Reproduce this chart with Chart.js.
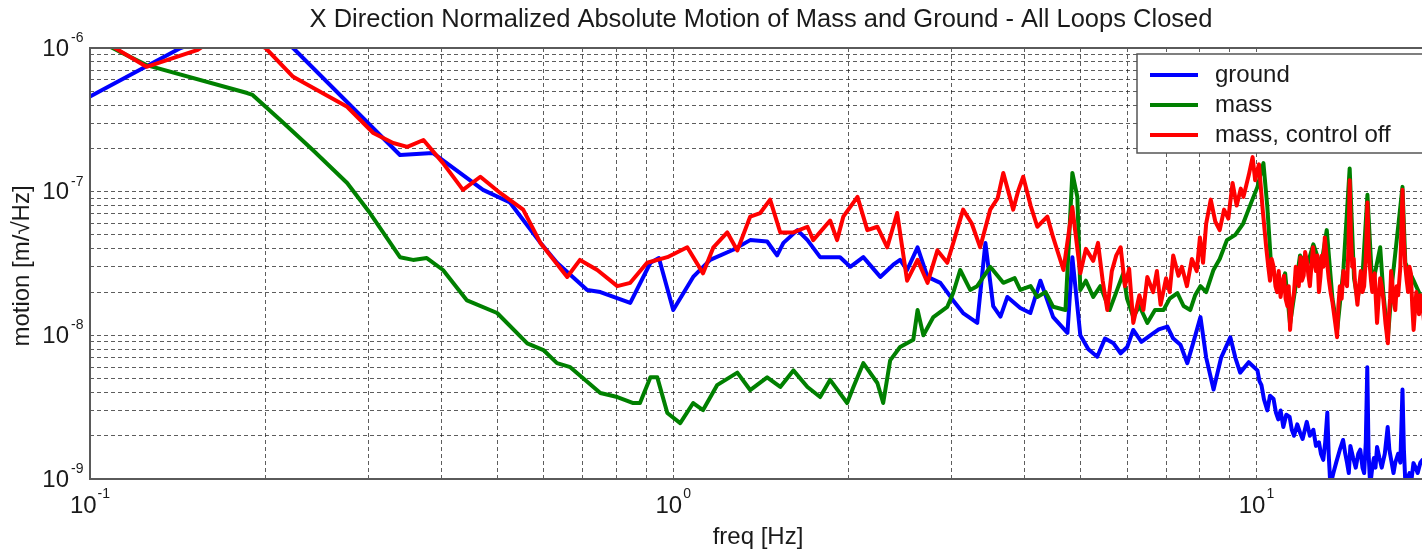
<!DOCTYPE html>
<html><head><meta charset="utf-8">
<script src="https://cdn.jsdelivr.net/npm/chart.js@4.4.1/dist/chart.umd.min.js"></script>
<style>html,body{margin:0;padding:0;background:#fff;overflow:hidden;width:1422px;height:553px}canvas{display:block}</style>
</head><body>
<canvas id="c" width="1440" height="553"></canvas>
<script>
const chartTitle = "X Direction Normalized Absolute Motion of Mass and Ground - All Loops Closed";
const xAxisLabel = "freq [Hz]";
const yAxisLabel = "motion [m/\u221AHz]";
const seriesNames = ["ground", "mass", "mass, control off"];
const seriesColors = ["#0000ff", "#008000", "#ff0000"];
const xTickExponents = [-1, 0, 1];
const yTickExponents = [-9, -8, -7, -6];

const groundFreq = [0.100,0.143,0.19,0.223,0.340,0.387,0.472,0.525,0.592,0.632,0.712,0.750,0.844,0.914,0.945,1.000,1.082,1.157,1.267,1.355,1.449,1.507,1.545,1.633,1.699,1.786,1.932,2.012,2.118,2.265,2.384,2.449,2.518,2.624,2.729,2.871,3.020,3.141,3.321,3.430,3.537,3.64,3.741,3.936,4.096,4.262,4.482,4.742,4.835,4.989,5.15,5.334,5.5,5.688,5.85,6.005,6.148,6.35,6.577,6.8,7.036,7.2,7.408,7.612,7.8,8.017,8.2,8.443,8.7,9.020,9.2,9.378,9.7,10.04,10.12,10.2,10.3,10.44,10.55,10.7,10.8,10.9,11.0,11.12,11.25,11.4,11.5,11.6,11.75,11.88,12.0,12.2,12.35,12.52,12.65,12.8,12.9,13.02,13.12,13.23,13.3,13.39,13.55,13.7,13.9,14.08,14.2,14.3,14.4,14.49,14.65,14.8,14.95,15.07,15.2,15.3,15.4,15.49,15.57,15.67,15.8,15.9,16.0,16.1,16.25,16.4,16.6,16.79,16.9,17.0,17.18,17.3,17.5,17.65,17.8,17.9,18.01,18.15,18.3,18.45,18.59,18.75,18.9,19.1,19.27,19.45,19.6,19.8,20];
const groundVal = [4.6e-7,1.0e-6,1.5e-6,1.0e-6,1.8e-7,1.86e-7,1.03e-7,8.4e-8,4.4e-8,3.2e-8,2.07e-8,2.0e-8,1.68e-8,3.2e-8,3.45e-8,1.5e-8,2.55e-8,3.35e-8,3.94e-8,4.6e-8,4.5e-8,3.6e-8,4.4e-8,5.4e-8,4.6e-8,3.5e-8,3.5e-8,3.0e-8,3.5e-8,2.55e-8,3.1e-8,3.35e-8,2.85e-8,4.1e-8,2.55e-8,2.32e-8,1.75e-8,1.43e-8,1.22e-8,4.4e-8,1.6e-8,1.35e-8,1.85e-8,1.55e-8,1.43e-8,2.4e-8,1.34e-8,1.04e-8,3.5e-8,1.0e-8,8.0e-9,7.1e-9,9.5e-9,8.8e-9,7.5e-9,8.3e-9,1.09e-8,9.0e-9,1.0e-8,1.1e-8,1.15e-8,9.5e-9,8.6e-9,6.4e-9,9.0e-9,1.34e-8,7.0e-9,4.2e-9,7.0e-9,9.7e-9,7.0e-9,5.5e-9,6.5e-9,5.7e-9,4.8e-9,4.5e-9,3.6e-9,3.0e-9,3.8e-9,3.6e-9,2.9e-9,2.6e-9,3.0e-9,2.3e-9,2.8e-9,2.7e-9,2.2e-9,2.0e-9,2.4e-9,2.1e-9,1.9e-9,2.5e-9,2.0e-9,2.2e-9,1.7e-9,1.8e-9,1.5e-9,1.36e-9,1.8e-9,2.9e-9,1.5e-9,9e-10,1.1e-9,1.3e-9,1.6e-9,1.87e-9,1.5e-9,1.3e-9,1.1e-9,1.7e-9,1.4e-9,1.2e-9,1.5e-9,1.6e-9,1.2e-9,1.1e-9,1.8e-9,6.0e-9,1.5e-9,9e-10,1.2e-9,1.4e-9,1.2e-9,1.67e-9,1.4e-9,1.2e-9,1.5e-9,2.3e-9,1.6e-9,1.4e-9,1.1e-9,1.3e-9,1.5e-9,1.3e-9,4.2e-9,1.6e-9,9e-10,1.0e-9,1.1e-9,1.0e-9,1.29e-9,1.2e-9,1.1e-9,1.3e-9,1.36e-9,1.2e-9,1.1e-9,1.3e-9,1.2e-9];

const massFreq = [0.100,0.125,0.186,0.190,0.212,0.241,0.276,0.302,0.340,0.358,0.378,0.403,0.443,0.499,0.562,0.599,0.632,0.666,0.750,0.802,0.854,0.877,0.914,0.939,0.977,1.028,1.082,1.125,1.189,1.288,1.355,1.449,1.526,1.607,1.699,1.786,1.858,1.987,2.037,2.118,2.239,2.291,2.355,2.449,2.58,2.624,2.685,2.793,2.951,3.02,3.105,3.23,3.32,3.496,3.681,3.85,3.936,4.1,4.21,4.35,4.482,4.705,4.835,4.931,4.989,5.1,5.25,5.4,5.6,5.75,5.91,6.0,6.15,6.3,6.5,6.7,6.93,7.1,7.32,7.5,7.7,7.85,8.02,8.2,8.44,8.65,8.9,9.2,9.49,9.75,10.04,10.28,10.44,10.6,11.0,11.2,11.42,11.88,12.2,12.52,12.9,13.2,13.5,13.76,14.1,14.45,14.7,14.9,15.2,15.5,15.8,16.3,16.5,16.8,17.1,17.8,18.0,18.6,19.27,20];
const massVal = [1.2e-6,7.6e-7,4.86e-7,4.71e-7,3.15e-7,1.95e-7,1.15e-7,7.1e-8,3.5e-8,3.35e-8,3.45e-8,2.85e-8,1.75e-8,1.43e-8,8.8e-9,7.9e-9,6.4e-9,6.0e-9,3.97e-9,3.72e-9,3.38e-9,3.38e-9,5.1e-9,5.1e-9,2.88e-9,2.45e-9,3.38e-9,3.02e-9,4.5e-9,5.5e-9,4.16e-9,5.1e-9,4.37e-9,5.7e-9,4.37e-9,3.72e-9,4.9e-9,3.38e-9,4.37e-9,6.4e-9,4.66e-9,3.38e-9,6.7e-9,8.3e-9,9.3e-9,1.5e-8,1.0e-8,1.34e-8,1.58e-8,1.97e-8,2.85e-8,2.07e-8,2.2e-8,3.0e-8,2.32e-8,2.5e-8,2.07e-8,2.2e-8,1.85e-8,2.0e-8,1.58e-8,1.5e-8,1.35e-7,9.2e-8,2.07e-8,2.4e-8,1.85e-8,2.2e-8,1.5e-8,2.0e-8,2.7e-8,1.8e-8,1.34e-8,1.6e-8,1.22e-8,1.5e-8,1.5e-8,1.8e-8,1.97e-8,1.6e-8,1.5e-8,1.9e-8,2.2e-8,2.0e-8,2.85e-8,3.4e-8,4.6e-8,5.0e-8,6.0e-8,8.0e-8,1.08e-7,1.58e-7,7.8e-8,3.0e-8,2.1e-8,2.7e-8,1.2e-8,3.6e-8,3.0e-8,4.3e-8,3.0e-8,5.4e-8,1.8e-8,1.1e-8,2.9e-8,1.45e-7,2.5e-8,1.8e-8,2.6e-8,9.5e-8,2.2e-8,4.1e-8,2.0e-8,9.5e-9,2.4e-8,1.08e-7,3.2e-8,2.4e-8,1.75e-8,2.0e-8];

const offFreq = [0.100,0.125,0.153,0.170,0.200,0.223,0.276,0.306,0.331,0.350,0.373,0.403,0.436,0.467,0.505,0.553,0.592,0.658,0.692,0.741,0.802,0.844,0.902,0.977,1.057,1.125,1.172,1.238,1.288,1.355,1.410,1.466,1.526,1.607,1.699,1.738,1.858,1.910,1.957,2.070,2.152,2.239,2.328,2.421,2.518,2.624,2.729,2.838,2.951,3.05,3.141,3.25,3.36,3.496,3.6,3.681,3.828,3.9,3.982,4.1,4.210,4.380,4.482,4.668,4.835,4.989,5.1,5.25,5.35,5.45,5.55,5.65,5.75,5.85,5.95,6.05,6.15,6.3,6.4,6.5,6.65,6.75,6.85,7.0,7.1,7.2,7.35,7.45,7.6,7.75,7.9,8.0,8.1,8.2,8.35,8.5,8.65,8.8,8.95,9.1,9.25,9.4,9.5,9.7,9.85,9.95,10.1,10.25,10.4,10.48,10.55,10.62,10.7,10.78,10.85,10.92,11.0,11.08,11.15,11.22,11.3,11.36,11.42,11.5,11.6,11.68,11.75,11.82,11.9,11.97,12.05,12.12,12.2,12.28,12.35,12.42,12.5,12.58,12.65,12.72,12.8,12.88,12.95,13.02,13.1,13.2,13.3,13.4,13.5,13.62,13.75,13.82,13.9,14.0,14.1,14.2,14.3,14.38,14.45,14.52,14.6,14.68,14.75,14.82,14.9,15.0,15.1,15.2,15.3,15.4,15.5,15.58,15.65,15.72,15.8,15.88,15.95,16.02,16.1,16.2,16.3,16.4,16.5,16.65,16.8,16.88,16.95,17.02,17.1,17.2,17.3,17.4,17.5,17.65,17.8,17.9,18.0,18.1,18.2,18.3,18.4,18.5,18.6,18.7,18.8,18.9,19.0,19.1,19.27,19.4,19.6,19.8,20];
const offVal = [1.27e-6,7.4e-7,9.7e-7,1.3e-6,1.0e-6,6.3e-7,3.9e-7,2.56e-7,2.18e-7,2.05e-7,2.29e-7,1.58e-7,1.03e-7,1.27e-7,9.8e-8,7.5e-8,4.4e-8,2.55e-8,3.35e-8,2.85e-8,2.2e-8,2.32e-8,3.2e-8,3.5e-8,4.1e-8,2.7e-8,4.1e-8,5.2e-8,3.9e-8,6.7e-8,7.1e-8,8.8e-8,5.2e-8,5.2e-8,5.7e-8,4.6e-8,6.3e-8,4.6e-8,6.7e-8,9.2e-8,5.4e-8,5.7e-8,4.1e-8,7.1e-8,2.4e-8,3.35e-8,2.32e-8,3.9e-8,3.2e-8,5.0e-8,7.5e-8,6.0e-8,4.1e-8,7.5e-8,9.0e-8,1.35e-7,7.5e-8,1.0e-7,1.27e-7,8.0e-8,5.7e-8,6.7e-8,4.8e-8,2.85e-8,7.8e-8,2.7e-8,4.0e-8,3.3e-8,4.4e-8,2.4e-8,1.5e-8,2.8e-8,3.6e-8,4.1e-8,2.2e-8,2.9e-8,1.22e-8,1.9e-8,1.5e-8,2.55e-8,2.0e-8,2.8e-8,1.63e-8,2.5e-8,2.0e-8,3.6e-8,2.6e-8,3.0e-8,2.2e-8,3.4e-8,2.8e-8,4.8e-8,3.2e-8,6.0e-8,8.8e-8,6.2e-8,5.4e-8,7.5e-8,6.5e-8,1.15e-7,8.0e-8,1.05e-7,9.2e-8,1.3e-7,1.74e-7,1.2e-7,1.55e-7,7.5e-8,4.0e-8,3.0e-8,2.4e-8,3.4e-8,3.0e-8,2.2e-8,2.0e-8,2.8e-8,1.85e-8,2.3e-8,2.6e-8,1.8e-8,1.6e-8,2.2e-8,1.09e-8,1.6e-8,2.0e-8,3.0e-8,2.8e-8,2.2e-8,3.5e-8,2.4e-8,2.6e-8,3.8e-8,3.3e-8,2.6e-8,2.2e-8,3.0e-8,4.1e-8,3.2e-8,2.8e-8,3.6e-8,2.0e-8,2.6e-8,3.6e-8,3.0e-8,4.8e-8,3.4e-8,2.5e-8,2.0e-8,1.7e-8,1.3e-8,9.7e-9,1.6e-8,2.2e-8,1.8e-8,2.8e-8,2.4e-8,2.2e-8,4.0e-8,1.2e-7,5.0e-8,3.0e-8,3.4e-8,2.4e-8,2.0e-8,1.63e-8,2.2e-8,2.8e-8,2.0e-8,2.2e-8,3.4e-8,8.4e-8,4.0e-8,3.0e-8,2.4e-8,2.0e-8,2.4e-8,2.7e-8,1.8e-8,1.22e-8,1.8e-8,2.5e-8,2.2e-8,1.8e-8,1.2e-8,8.8e-9,1.4e-8,1.8e-8,2.8e-8,2.3e-8,1.7e-8,1.5e-8,2.2e-8,1.9e-8,3.0e-8,1.03e-7,4.5e-8,3.0e-8,2.4e-8,2.0e-8,3.0e-8,2.7e-8,1.6e-8,1.09e-8,1.5e-8,2.0e-8,1.7e-8,1.4e-8,1.9e-8,1.58e-8,1.2e-8,1.1e-8,1.6e-8,2.0e-8];

const FONT = '"Liberation Sans", Arial, Helvetica, sans-serif';
const TEXT_COLOR = '#1a1a1a';

function pts(fx, vy) { return fx.map((f, i) => ({ x: f, y: vy[i] })); }
function decadeTicks(e0, e1) {
  const t = [];
  for (let e = e0; e < e1; e++) for (let k = 1; k <= 9; k++) t.push({ value: k * Math.pow(10, e) });
  t.push({ value: Math.pow(10, e1) });
  return t;
}

const decorPlugin = {
  id: 'decor',
  afterDatasetsDraw(chart) {
    const ctx = chart.ctx, a = chart.chartArea;
    const xs = chart.scales.x, ys = chart.scales.y;
    ctx.save();
    ctx.strokeStyle = '#5a5a5a'; ctx.lineWidth = 2; ctx.setLineDash([]);
    ctx.strokeRect(a.left, a.top, a.right - a.left, a.bottom - a.top);
    ctx.fillStyle = TEXT_COLOR;
    ctx.font = '25.5px ' + FONT; ctx.textAlign = 'center'; ctx.textBaseline = 'middle';
    ctx.fillText(chartTitle, (a.left + a.right) / 2, 20);
    ctx.font = '24px ' + FONT;
    ctx.fillText(xAxisLabel, 758, 537);
    ctx.save(); ctx.translate(22, 266); ctx.rotate(-Math.PI / 2);
    ctx.fillText(yAxisLabel, 0, 0); ctx.restore();
    yTickExponents.forEach(e => {
      const y = ys.getPixelForValue(Math.pow(10, e));
      ctx.font = '24px ' + FONT; ctx.textAlign = 'right'; ctx.textBaseline = 'middle';
      ctx.fillText('10', 69, y + 1);
      ctx.font = '14px ' + FONT; ctx.textAlign = 'left';
      ctx.fillText('-' + Math.abs(e), 71, y - 10);
    });
    xTickExponents.forEach(e => {
      const x = xs.getPixelForValue(Math.pow(10, e));
      ctx.font = '24px ' + FONT;
      const w10 = ctx.measureText('10').width;
      const es = (e < 0 ? '-' : '') + Math.abs(e);
      ctx.font = '14px ' + FONT;
      const we = ctx.measureText(es).width;
      const start = x - (w10 + 1 + we) / 2;
      ctx.textAlign = 'left'; ctx.textBaseline = 'middle';
      ctx.font = '24px ' + FONT; ctx.fillText('10', start, 506);
      ctx.font = '14px ' + FONT; ctx.fillText(es, start + w10 + 1, 494);
    });
    ctx.fillStyle = '#ffffff'; ctx.fillRect(1137, 54, 300, 99);
    ctx.strokeStyle = '#555'; ctx.lineWidth = 1.5; ctx.strokeRect(1137, 54, 300, 99);
    seriesNames.forEach((n, i) => {
      const y = 75 + i * 30;
      ctx.strokeStyle = seriesColors[i]; ctx.lineWidth = 4;
      ctx.beginPath(); ctx.moveTo(1150, y); ctx.lineTo(1198, y); ctx.stroke();
      ctx.fillStyle = TEXT_COLOR; ctx.font = '24px ' + FONT;
      ctx.textAlign = 'left'; ctx.textBaseline = 'middle';
      ctx.fillText(n, 1215, y);
    });
    ctx.restore();
  }
};

const gridOpts = { color: 'rgba(30,30,30,0.72)', lineWidth: 1, drawTicks: false };
const borderOpts = { display: false, dash: [4, 3] };

new Chart(document.getElementById('c'), {
  type: 'line',
  data: {
    datasets: [
      { label: seriesNames[0], data: pts(groundFreq, groundVal), borderColor: seriesColors[0], order: 3 },
      { label: seriesNames[1], data: pts(massFreq, massVal), borderColor: seriesColors[1], order: 2 },
      { label: seriesNames[2], data: pts(offFreq, offVal), borderColor: seriesColors[2], order: 1 }
    ]
  },
  options: {
    responsive: false, animation: false, devicePixelRatio: 1,
    layout: { padding: { top: 48, right: 8, left: 0, bottom: 0 } },
    elements: { point: { radius: 0 }, line: { borderWidth: 4, tension: 0, borderJoinStyle: 'round', borderCapStyle: 'round', fill: false } },
    datasets: { line: { clip: 0 } },
    plugins: { legend: { display: false }, title: { display: false }, tooltip: { enabled: false } },
    scales: {
      x: {
        type: 'logarithmic', min: 0.1, max: 20, position: 'bottom',
        ticks: { display: false }, grid: gridOpts, border: borderOpts,
        afterBuildTicks: s => { s.ticks = decadeTicks(-1, 1).concat([{ value: 20 }]); },
        afterFit: s => { s.height = 74; }
      },
      y: {
        type: 'logarithmic', min: 1e-9, max: 1e-6, position: 'left',
        ticks: { display: false }, grid: gridOpts, border: borderOpts,
        afterBuildTicks: s => { s.ticks = decadeTicks(-9, -6); },
        afterFit: s => { s.width = 90; }
      }
    }
  },
  plugins: [decorPlugin]
});
</script>
</body></html>
